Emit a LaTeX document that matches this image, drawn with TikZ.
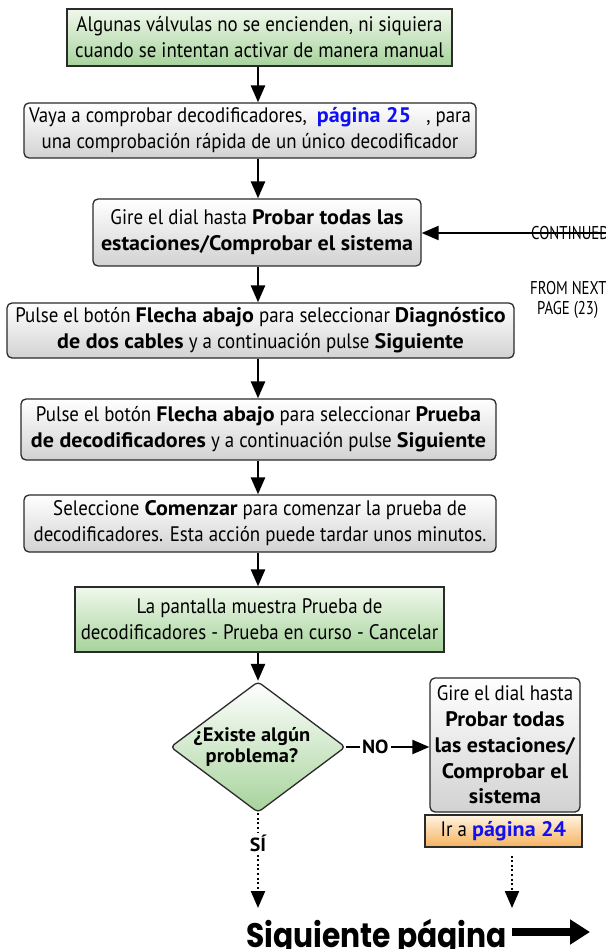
\documentclass[tikz,border=0pt]{standalone}
\usepackage{fontspec}
\setmainfont{PT Sans}[UprightFeatures={FakeStretch=0.9}, BoldFeatures={FakeStretch=1.05}]
\newfontfamily\condfont{PT Sans}[FakeStretch=0.8]
\newfontfamily\sigfont{Poppins}[FakeStretch=0.875]
\usetikzlibrary{arrows.meta,shapes.geometric}
\definecolor{gtop}{HTML}{F0F8EC}
\definecolor{gbot}{HTML}{A6D39B}
\definecolor{ytop}{HTML}{FFFFFF}
\definecolor{ybot}{HTML}{D2D2D2}
\definecolor{otop}{HTML}{FFF4E2}
\definecolor{obot}{HTML}{F5B25E}
\definecolor{linkblue}{HTML}{1010F0}
\definecolor{edge}{HTML}{2A2A2A}
\tikzset{
  x=1pt, y=-1pt,
  txt/.style={font=\fontsize{21}{26}\selectfont, align=center, inner sep=0pt},
  greenbox/.style={txt, draw=edge, line width=1.3pt, top color=gtop, bottom color=gbot},
  graybox/.style={txt, draw=edge, line width=1.3pt, rounded corners=5pt, top color=ytop, bottom color=ybot},
  orangebox/.style={txt, draw=edge, line width=1.3pt, top color=otop, bottom color=obot},
  arr/.style={line width=2.6pt, -{Triangle[length=17pt,width=14pt]}},
  dotarr/.style={line width=2.2pt, dash pattern=on 2pt off 2.6pt, -{Triangle[length=17pt,width=14pt]}},
  condtxt/.style={font=\condfont\fontsize{18.5}{20}\selectfont, anchor=west, inner sep=0pt},
  lbl/.style={fill=white, inner sep=2pt, font=\bfseries\fontsize{19}{21}\selectfont},
}
\begin{document}
\begin{tikzpicture}
\useasboundingbox (0,0) rectangle (605,949);
\node[greenbox, minimum width=385pt, minimum height=57pt] (b1) at (259.5,37.5)
  {Algunas válvulas no se encienden, ni siquiera\\cuando se intentan activar de manera manual};
\node[graybox, minimum width=452pt, minimum height=55pt] (b2) at (250,130.5)
  {Vaya a comprobar decodificadores,\ \ {\bfseries\color{linkblue}página 25}\ \ \ , para\\una comprobación rápida de un único decodificador};
\node[graybox, minimum width=328pt, minimum height=67pt] (b3) at (257,232.5)
  {Gire el dial hasta \textbf{Probar todas las}\\\textbf{estaciones/Comprobar el sistema}};
\node[graybox, minimum width=507pt, minimum height=55pt] (b4) at (260.5,330.5)
  {Pulse el botón \textbf{Flecha abajo} para seleccionar \textbf{Diagnóstico}\\\textbf{de dos cables} y a continuación pulse \textbf{Siguiente}};
\node[graybox, minimum width=475pt, minimum height=61pt] (b5) at (258.5,429.5)
  {Pulse el botón \textbf{Flecha abajo} para seleccionar \textbf{Prueba}\\\textbf{de decodificadores} y a continuación pulse \textbf{Siguiente}};
\node[graybox, minimum width=472pt, minimum height=57pt] (b6) at (260,523.5)
  {Seleccione \textbf{Comenzar} para comenzar la prueba de\\decodificadores. Esta acción puede tardar unos minutos.};
\node[greenbox, minimum width=369pt, minimum height=65pt] (b7) at (259.5,619.5)
  {La pantalla muestra Prueba de\\decodificadores - Prueba en curso - Cancelar};
\node[diamond, draw=edge, line width=1.3pt, rounded corners=4pt, top color=white, bottom color=gbot,
  minimum width=175pt, minimum height=131pt, inner sep=0pt] (d) at (258,747) {};
\node[txt, font=\bfseries\fontsize{19.5}{21}\selectfont] (dq) at (252,747) {¿Existe algún\\problema?};
\node[graybox, minimum width=150pt, minimum height=134pt, font=\fontsize{21}{25.7}\selectfont] (r) at (505,745)
  {Gire el dial hasta\\\textbf{Probar todas}\\\textbf{las estaciones/}\\\textbf{Comprobar el}\\\textbf{sistema}};
\node[orangebox, minimum width=157pt, minimum height=32pt] (o) at (503.5,831)
  {Ir a {\bfseries\color{linkblue}página 24}};
% main vertical arrows
\draw[arr] (b1.south -| d.north) -- (b2.north -| d.north);
\draw[arr] (b2.south -| d.north) -- (b3.north -| d.north);
\draw[arr] (b3.south -| d.north) -- (b4.north -| d.north);
\draw[arr] (b4.south -| d.north) -- (b5.north -| d.north);
\draw[arr] (b5.south -| d.north) -- (b6.north -| d.north);
\draw[arr] (b6.south -| d.north) -- (b7.north -| d.north);
\draw[arr] (b7.south -| d.north) -- (d.north);
% continued from next page
\coordinate (cin) at (610,233);
\draw[line width=2.2pt, -{Triangle[length=17pt,width=14pt]}] (cin) -- (b3.east |- cin);
\node[condtxt] (cont) at (531,233) {CONTINUED};
\node[condtxt] (from) at (530,288) {FROM NEXT};
\node[condtxt] (pg) at (537,310) {PAGE (23)};
% NO branch
\draw[line width=2.2pt, -{Triangle[length=17pt,width=14pt]}] (d.east) -- node[lbl, pos=0.35] (no) {NO} (r.west |- d.east);
% SI branch
\coordinate (sitip) at (258,908);
\draw[dotarr] (d.south) -- node[lbl, pos=0.32] (si) {SÍ} (sitip);
\coordinate (otip) at (512,908);
\draw[dotarr] (o.south -| otip) ++(0,8) -- (otip);
% bottom
\node[font=\sigfont\bfseries\fontsize{34}{36}\selectfont, inner sep=0pt, anchor=base west] (sig) at (246,947) {Siguiente página};
\coordinate (bigtip) at (590,932);
\draw[line width=8pt, -{Triangle[length=20pt,width=24pt]}] (sig.east |- bigtip) ++(5,0) -- (bigtip);
\end{tikzpicture}
\end{document}
